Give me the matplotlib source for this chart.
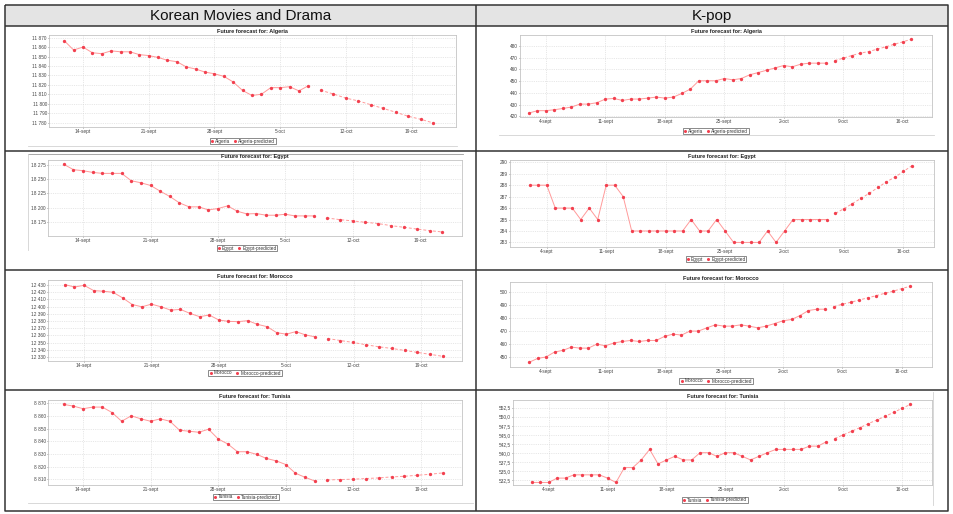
import matplotlib
matplotlib.use("Agg")
import matplotlib.pyplot as plt
from matplotlib.lines import Line2D
from matplotlib.patches import Rectangle

plt.rcParams['font.family'] = ['Liberation Sans', 'DejaVu Sans']

W, H = 954, 514

# ---- data ----
headers = ["Korean Movies and Drama", "K-pop"]

# left column: daily points from 12-sept, predictions every ~1.3 day
kmd_days = list(range(27))
kmd_pred_days = [27.3, 28.63, 29.97, 31.3, 32.63, 33.97, 35.3, 36.63, 37.97, 39.3]
kmd_ticks = [2, 9, 16, 23, 30, 37]
kmd_tick_labels = ["14-sept", "21-sept", "28-sept", "5-oct", "12-oct", "19-oct"]

# right column: daily points from 2-sept
kpop_days = list(range(36))
kpop_pred_days = [36, 37, 38, 39, 40, 41, 42, 43, 44, 45]
kpop_ticks = [2, 9, 16, 23, 30, 37, 44]
kpop_tick_labels = ["4-sept", "11-sept", "18-sept", "25-sept", "2-oct", "9-oct", "16-oct"]

kmd_algeria = [11866.8, 11856.9, 11860, 11854, 11853, 11856, 11855, 11855, 11852, 11851,
               11849, 11846, 11844.5, 11839, 11836.7, 11833.5, 11831.7, 11829, 11823, 11814,
               11808.7, 11810, 11817, 11817, 11818, 11813.6, 11819]
kmd_algeria_pred = [11814.3, 11810.4, 11806, 11803, 11799, 11795, 11791, 11786.7, 11783.5, 11779.6]

kmd_egypt = [18276.2, 18266.8, 18265, 18262, 18260.3, 18260.3, 18260.3, 18247.4, 18243.8, 18239.1,
             18229.1, 18219.7, 18208.5, 18201.5, 18201.5, 18196.2, 18198.5, 18203.2, 18193.8, 18189.1,
             18189.7, 18186.8, 18186.8, 18188.5, 18185.6, 18185.6, 18185.6]
kmd_egypt_pred = [18182, 18179.1, 18176.8, 18174.4, 18172.1, 18168.5, 18165.6, 18162.6, 18159.7, 18157.4]

kmd_morocco = [12430.5, 12427.2, 12429.5, 12422.2, 12421.3, 12419.9, 12412.1, 12402.9, 12399.7, 12403.4,
               12399.7, 12395.1, 12396.1, 12390.6, 12386, 12388.3, 12381.4, 12379.5, 12379.1, 12380.5,
               12375.4, 12372.2, 12363.9, 12361.7, 12365.3, 12360.7, 12358]
kmd_morocco_pred = [12355.7, 12352.9, 12350.2, 12347, 12344.2, 12341.9, 12339.2, 12336.4, 12333.7, 12330.9]

kmd_tunisia = [8869.2, 8867.9, 8865.8, 8867.1, 8867.1, 8862.8, 8855.9, 8860.2, 8857.8, 8855.9,
               8857.8, 8855.9, 8848.8, 8848, 8847.2, 8849.6, 8841.9, 8837.9, 8831.8, 8831.8,
               8829.7, 8826.5, 8824.6, 8821.7, 8814.8, 8811.6, 8808.7]
kmd_tunisia_pred = [8809.5, 8809.8, 8810.1, 8810.6, 8811.1, 8811.9, 8812.4, 8813.2, 8814, 8815.1]

kpop_algeria = [422.8, 424.8, 424.8, 425.6, 426.7, 427.9, 430.4, 430.4, 431.6, 434.7,
                435.2, 433.5, 434.7, 434.7, 435.5, 436.4, 435.5, 436.4, 439.5, 443.2,
                450.3, 450.3, 450.3, 452.2, 451.1, 452.2, 455.4, 457.3, 459.3, 461.3,
                463.3, 462.2, 464.4, 465.3, 465.3, 465.3]
kpop_algeria_pred = [467.5, 469.5, 471.8, 473.8, 475.2, 477.2, 479.2, 481.4, 483.4, 485.7]

kpop_egypt = [288, 288, 288, 286, 286, 286, 285, 286, 285, 288,
              288, 287, 284, 284, 284, 284, 284, 284, 284, 285,
              284, 284, 285, 284, 283, 283, 283, 283, 284, 283,
              284, 285, 285, 285, 285, 285]
kpop_egypt_pred = [285.54, 285.95, 286.4, 286.85, 287.3, 287.8, 288.3, 288.7, 289.2, 289.7]

kpop_morocco = [446.2, 449.2, 450.3, 454.1, 455.4, 457.9, 457.1, 457.1, 460.2, 458.9,
                461, 462.2, 463, 462.2, 463, 463, 466.1, 467.9, 467.1, 470.2,
                470.2, 472.7, 475, 474, 474, 475, 474, 472.7, 474, 476,
                478.1, 479.1, 482.1, 486, 487, 487]
kpop_morocco_pred = [489, 490.8, 492.3, 494.1, 495.7, 497.4, 499.2, 500.8, 502.8, 504.6]

kpop_tunisia = [531.9, 531.9, 531.9, 533.1, 533.1, 534, 534, 534, 534, 533.1,
                531.9, 536, 536, 538.1, 541, 537, 538.1, 539.1, 538.1, 538.1,
                540.1, 540.1, 539.1, 540.1, 540.1, 539.1, 538.1, 539.1, 540.1, 541,
                541, 541, 541, 541.9, 541.9, 543.1]
kpop_tunisia_pred = [544, 545, 546, 547, 548.1, 549.1, 550.1, 551.2, 552.3, 553.4]

yticks_kmd_algeria = [11780, 11790, 11800, 11810, 11820, 11830, 11840, 11850, 11860, 11870]
yticks_kmd_egypt = [18175, 18200, 18225, 18250, 18275]
yticks_kmd_morocco = [12330, 12340, 12350, 12360, 12370, 12380, 12390, 12400, 12410, 12420, 12430]
yticks_kmd_tunisia = [8810, 8820, 8830, 8840, 8850, 8860, 8870]
yticks_kpop_algeria = [420, 430, 440, 450, 460, 470, 480]
yticks_kpop_egypt = [283, 284, 285, 286, 287, 288, 289, 290]
yticks_kpop_morocco = [450, 460, 470, 480, 490, 500]
yticks_kpop_tunisia = [532.5, 535.0, 537.5, 540.0, 542.5, 545.0, 547.5, 550.0, 552.5]

MARKER = '#f2404f'
LINE = '#ff9a9a'


def px_rect(x0, x1, y0, y1):
    return [x0 / W, 1 - y1 / H, (x1 - x0) / W, (y1 - y0) / H]


def fmt_space(v):
    return f"{v:,.0f}".replace(",", " ")


def fmt_int(v):
    return f"{v:.0f}"


def fmt_comma(v):
    return f"{v:.1f}".replace(".", ",")


def draw_panel(fig, rect, days, values, pred_days, pred_values, country,
               xlim, ylim, yticks, yfmt, xticks, xlabels, legend_xy):
    ax = fig.add_axes(px_rect(*rect))
    ax.plot(days, values, '-', color=LINE, lw=0.7, zorder=2)
    ax.plot(days, values, 'o', color=MARKER, ms=2.4, mew=0, zorder=3)
    ax.plot(pred_days, pred_values, '--', color=LINE, lw=0.7, dashes=(3, 2), zorder=2)
    ax.plot(pred_days, pred_values, 'o', color=MARKER, ms=2.4, mew=0, zorder=3)
    ax.set_xlim(*xlim)
    ax.set_ylim(*ylim)
    ax.set_xticks(xticks)
    ax.set_xticklabels(xlabels)
    ax.set_yticks(yticks)
    ax.set_yticklabels([yfmt(v) for v in yticks])
    ax.tick_params(labelsize=3.4, colors='#444444', length=0.8, width=0.4, pad=0.8)
    ax.grid(True, color='#d4d4d4', lw=0.4, linestyle=(0, (2, 2)))
    ax.set_axisbelow(True)
    for s in ax.spines.values():
        s.set_color('#c4c4c4')
        s.set_linewidth(0.6)
    ax.set_title("Future forecast for: " + country, fontsize=4, fontweight='bold',
                 color='#222222', pad=1.5)
    handles = [Line2D([], [], marker='o', linestyle='none', color=MARKER, ms=2.2, mew=0),
               Line2D([], [], marker='o', linestyle='none', color=MARKER, ms=2.2, mew=0)]
    leg = fig.legend(handles, [country, country + "-predicted"], loc='center',
                     bbox_to_anchor=(legend_xy[0] / W, 1 - legend_xy[1] / H), ncol=2,
                     fontsize=3.4, frameon=True, fancybox=False, edgecolor='#555555',
                     handlelength=0.6, handleheight=0.5, handletextpad=0.3,
                     columnspacing=0.8, borderpad=0.2, borderaxespad=0)
    leg.get_frame().set_linewidth(0.6)
    for t in leg.get_texts():
        t.set_color('#333333')
    return ax


fig = plt.figure(figsize=(W / 100, H / 100), dpi=100)

# table frame drawn on a full-figure pixel canvas
bg = fig.add_axes([0, 0, 1, 1])
bg.set_xlim(0, W)
bg.set_ylim(H, 0)
bg.axis('off')
bg.add_patch(Rectangle((5, 5), 943, 21, facecolor='#e4e4e4', edgecolor='none'))
dark = dict(color='#333333', lw=1.1, solid_capstyle='butt')
bg.plot([5, 948, 948, 5, 5], [5, 5, 511, 511, 5], **dark)
bg.plot([5, 948], [26, 26], **dark)
for yy in [151, 270, 390]:
    bg.plot([5, 948], [yy, yy], **dark)
bg.plot([476, 476], [5, 511], **dark)
light = dict(color='#d2d2d2', lw=0.6)
bg.plot([28, 457], [146, 146], **light)
bg.plot([499, 934], [135, 135], **light)
bg.plot([28, 463], [154, 154], color='#9a9a9a', lw=0.6)
bg.plot([28, 28], [154, 250], **light)
bg.plot([28, 473], [503, 503], **light)
bg.plot([933, 933], [392, 505], **light)
bg.text(240.5, 16, headers[0], ha='center', va='center', fontsize=11, color='#111111')
bg.text(712, 16, headers[1], ha='center', va='center', fontsize=11, color='#111111')

draw_panel(fig, (49, 456, 35, 127), kmd_days, kmd_algeria, kmd_pred_days, kmd_algeria_pred,
           "Algeria", (-1.62, 41.73), (11775.3, 11872.8), yticks_kmd_algeria, fmt_space,
           kmd_ticks, kmd_tick_labels, (243, 141))
draw_panel(fig, (520, 932, 35, 117), kpop_days, kpop_algeria, kpop_pred_days, kpop_algeria_pred,
           "Algeria", (-1.06, 47.46), (419.4, 489.3), yticks_kpop_algeria, fmt_int,
           kpop_ticks, kpop_tick_labels, (716, 131))
draw_panel(fig, (48, 462, 160, 236), kmd_days, kmd_egypt, kmd_pred_days, kmd_egypt_pred,
           "Egypt", (-1.64, 41.33), (18150.3, 18283.8), yticks_kmd_egypt, fmt_space,
           kmd_ticks, kmd_tick_labels, (247, 248))
draw_panel(fig, (510, 934, 160, 247), kpop_days, kpop_egypt, kpop_pred_days, kpop_egypt_pred,
           "Egypt", (-2.33, 47.6), (282.6, 290.2), yticks_kpop_egypt, fmt_int,
           kpop_ticks, kpop_tick_labels, (716, 259))
draw_panel(fig, (48, 462, 280, 361), kmd_days, kmd_morocco, kmd_pred_days, kmd_morocco_pred,
           "Morocco", (-1.75, 41.26), (12324.5, 12436.9), yticks_kmd_morocco, fmt_space,
           kmd_ticks, kmd_tick_labels, (245, 373))
draw_panel(fig, (510, 932, 282, 367), kpop_days, kpop_morocco, kpop_pred_days, kpop_morocco_pred,
           "Morocco", (-2.26, 47.6), (442.6, 507.9), yticks_kpop_morocco, fmt_int,
           kpop_ticks, kpop_tick_labels, (716, 381))
draw_panel(fig, (48, 462, 400, 485), kmd_days, kmd_tunisia, kmd_pred_days, kmd_tunisia_pred,
           "Tunisia", (-1.63, 41.26), (8805.5, 8872.7), yticks_kmd_tunisia, fmt_space,
           kmd_ticks, kmd_tick_labels, (246, 497))
draw_panel(fig, (513, 932, 400, 485), kpop_days, kpop_tunisia, kpop_pred_days, kpop_tunisia_pred,
           "Tunisia", (-2.24, 47.56), (531.2, 554.6), yticks_kpop_tunisia, fmt_comma,
           kpop_ticks, kpop_tick_labels, (715, 500))

fig.savefig("out.png", dpi=100, facecolor='white')
